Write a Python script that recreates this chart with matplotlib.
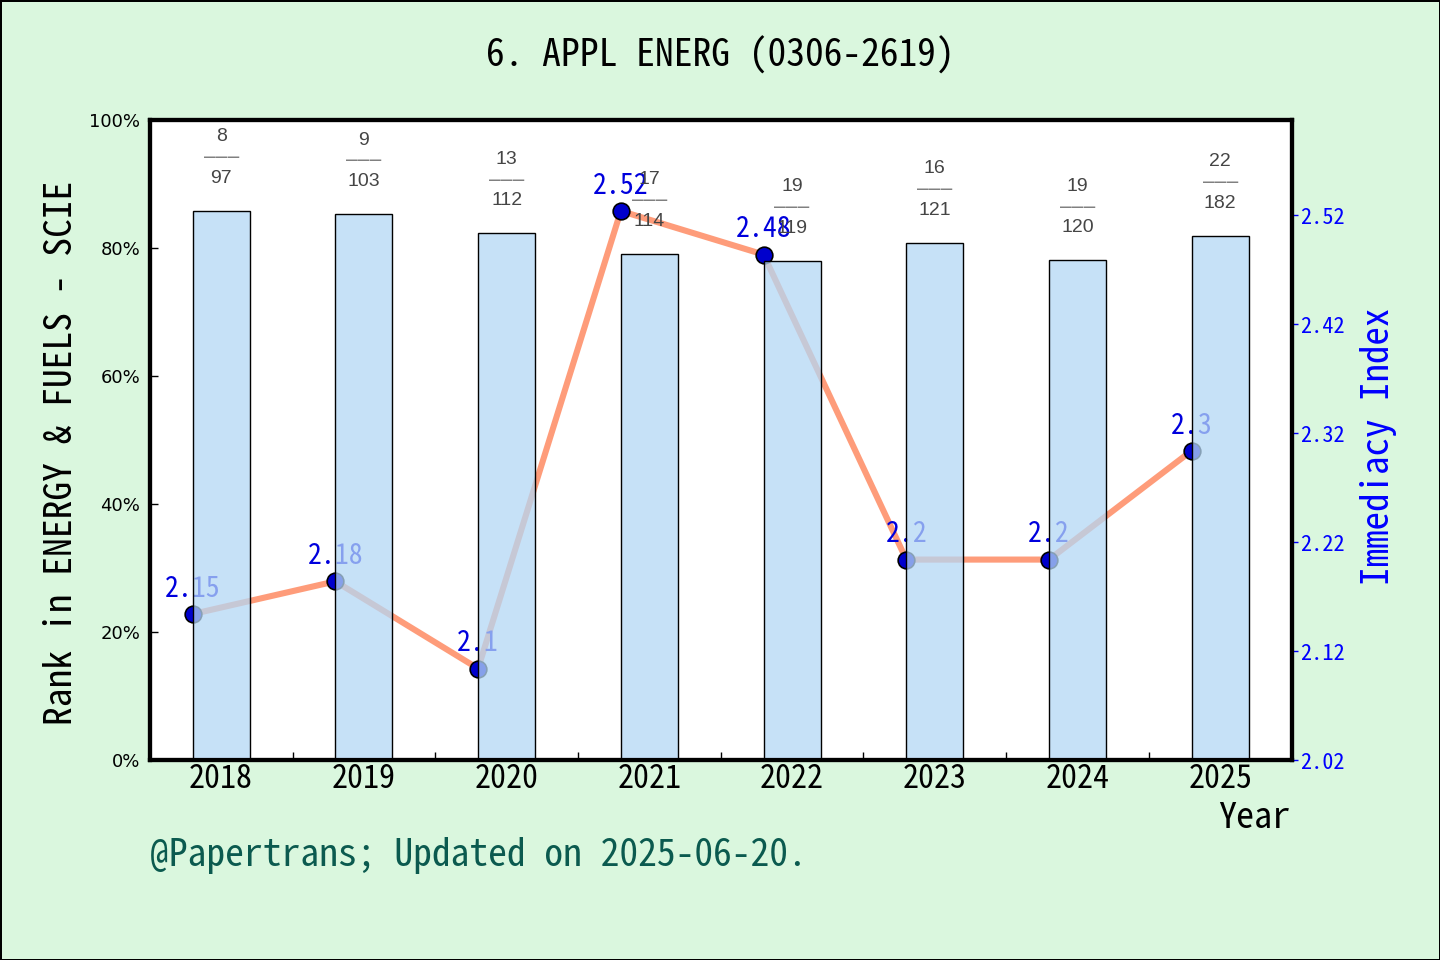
import matplotlib
matplotlib.use("Agg")
import matplotlib.pyplot as plt
from matplotlib.ticker import FixedLocator, FuncFormatter

years = ["2018", "2019", "2020", "2021", "2022", "2023", "2024", "2025"]
rank_pct = [85.8, 85.3, 82.3, 79.1, 78.0, 80.8, 78.1, 81.9]
ranks = [8, 9, 13, 17, 19, 16, 19, 22]
totals = [97, 103, 112, 114, 119, 121, 120, 182]
immediacy = [2.15, 2.18, 2.1, 2.52, 2.48, 2.2, 2.2, 2.3]
imm_labels = ["2.15", "2.18", "2.1", "2.52", "2.48", "2.2", "2.2", "2.3"]
right_ticks = [2.016, 2.116, 2.216, 2.316, 2.416, 2.516]
right_tick_labels = ["2.02", "2.12", "2.22", "2.32", "2.42", "2.52"]

mono = ["Noto Sans Mono CJK SC", "DejaVu Sans Mono"]
sans = ["Liberation Sans", "DejaVu Sans"]
bg = "#daf7de"

fig = plt.figure(figsize=(7.2, 4.8), dpi=200, facecolor=bg,
                 edgecolor="black", linewidth=1)
ax = fig.add_axes([0.104, 0.2083, 0.793, 0.6667])
ax2 = ax.twinx()
# bars drawn over the line, semi transparent
ax.set_zorder(ax2.get_zorder() + 1)
ax.patch.set_visible(False)
ax2.patch.set_visible(True)
ax2.patch.set_facecolor("white")

x = list(range(len(years)))
w = 0.4
ax.bar(x, rank_pct, width=w, color=(180/255, 215/255, 245/255, 0.75),
       edgecolor="black", linewidth=0.5)
for i in x:
    pos = (i, rank_pct[i] + 8.3)
    ax.annotate(str(ranks[i]), pos, xytext=(0, 7.5), textcoords="offset points",
                ha="center", va="center", fontsize=7, color="#454545", family=sans)
    ax.annotate("–––", pos, xytext=(0, 0), textcoords="offset points",
                ha="center", va="center", fontsize=7, color="#808080",
                family=["DejaVu Sans Mono"])
    ax.annotate(str(totals[i]), pos, xytext=(0, -7.5), textcoords="offset points",
                ha="center", va="center", fontsize=7, color="#454545", family=sans)

lx = [i - w / 2 for i in x]
ax2.plot(lx, immediacy, color="#fe9c7a", lw=2.2, zorder=2)
ax2.plot(lx, immediacy, "o", ms=6, mfc="#0000cc", mec="black", mew=0.6, zorder=3)
for xi, yi, s in zip(lx, immediacy, imm_labels):
    ax2.annotate(s, (xi, yi), xytext=(0, 4), textcoords="offset points",
                 ha="center", va="bottom", fontsize=10, color="#0000dd",
                 family=mono)

ax.set_xlim(-0.5, 7.5)
ax.set_ylim(0, 100)
ax2.set_ylim(2.016, 2.6035)

ax.set_xticks(x)
ax.set_xticklabels(years, family=mono, fontsize=11.5)
ax.xaxis.set_minor_locator(FixedLocator([i + 0.5 for i in x[:-1]]))
ax.tick_params(axis="x", which="major", length=0, pad=1)
ax.tick_params(axis="x", which="minor", direction="in", length=3, width=0.5)

ax.set_yticks([0, 20, 40, 60, 80, 100])
ax.yaxis.set_major_formatter(FuncFormatter(lambda v, p: f"{int(v)}%"))
ax.tick_params(axis="y", direction="in", length=3, width=0.5, labelsize=6.5)

ax2.set_yticks(right_ticks)
ax2.set_yticklabels(right_tick_labels, family=mono)
ax2.tick_params(axis="y", direction="out", length=2, width=0.5,
                colors="blue", labelsize=8, pad=1)

for a in (ax, ax2):
    for sp in a.spines.values():
        sp.set_linewidth(1.5)
        sp.set_color("black")

ax.set_ylabel("Rank in ENERGY & FUELS - SCIE", fontsize=13.5, family=mono)
ax.yaxis.set_label_coords(-0.061, 0.48)
ax2.set_ylabel("Immediacy Index", fontsize=13.3, family=mono, color="blue")
ax2.yaxis.set_label_coords(1.0595, 0.49)

fig.text(0.5, 1 - 55 / 960, "6. APPL ENERG (0306-2619)", ha="center",
         va="center", fontsize=13.5, family=mono)
fig.text(1290 / 1440, 1 - 818 / 960, "Year", ha="right", va="center",
         fontsize=13, family=mono)
fig.text(150 / 1440, 1 - 855 / 960, "@Papertrans; Updated on 2025-06-20.",
         ha="left", va="center", fontsize=13.5, family=mono, color="#0b5a4f")

fig.savefig("out.png", dpi=200, facecolor=bg, edgecolor="black")
